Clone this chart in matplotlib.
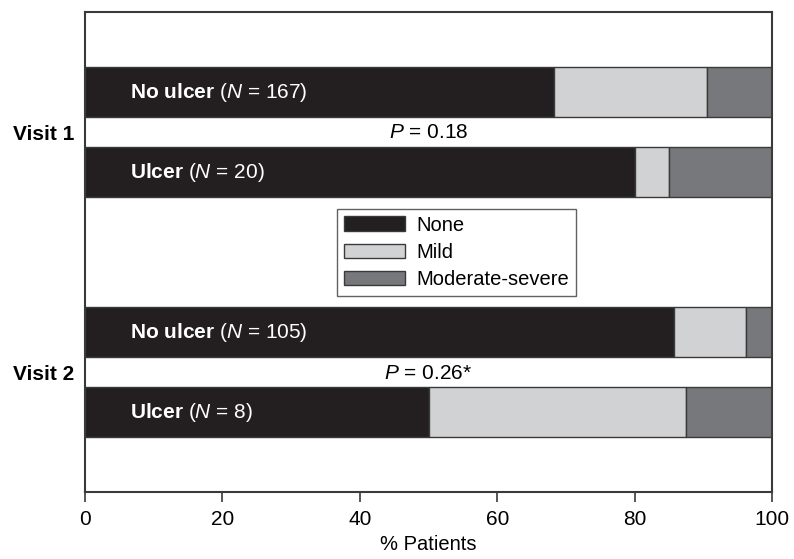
import numpy as np
import matplotlib
matplotlib.use("Agg")
import matplotlib.pyplot as plt

plt.rcParams['font.family'] = ['Liberation Sans', 'DejaVu Sans']
plt.rcParams['mathtext.fontset'] = 'custom'
plt.rcParams['mathtext.rm'] = 'Liberation Sans'
plt.rcParams['mathtext.it'] = 'Liberation Sans:italic'
plt.rcParams['mathtext.bf'] = 'Liberation Sans:bold'

# data (% patients)
groups = ['No ulcer', 'Ulcer', 'No ulcer', 'Ulcer']
group_n = [167, 20, 105, 8]
none_pct = [68.3, 80.0, 85.7, 50.0]
mild_pct = [22.2, 5.0, 10.5, 37.5]
modsev_pct = [9.5, 15.0, 3.8, 12.5]
visits = ['Visit 1', 'Visit 2']
p_labels = ['$\\mathit{P}$ = 0.18', '$\\mathit{P}$ = 0.26*']
xticks = [0, 20, 40, 60, 80, 100]

ypos = np.array([1, 2, 4, 5])
c_none, c_mild, c_mod = '#231f20', '#d1d2d4', '#77787b'
edge = '#3a3a3a'

fig = plt.figure(figsize=(7.94, 5.59), dpi=100)
ax = fig.add_axes([85/794, 1-492/559, 687/794, 480/559])

h = 0.62
none_arr = np.array(none_pct)
mild_arr = np.array(mild_pct)
ax.barh(ypos, none_pct, height=h, color=c_none, edgecolor=edge, lw=1, label='None')
ax.barh(ypos, mild_pct, left=none_arr, height=h, color=c_mild, edgecolor=edge, lw=1, label='Mild')
ax.barh(ypos, modsev_pct, left=none_arr + mild_arr, height=h, color=c_mod, edgecolor=edge, lw=1,
        label='Moderate-severe')

for y, g, n in zip(ypos, groups, group_n):
    lab = '$\\mathbf{' + g.replace(' ', '\\ ') + '}$ ($\\mathit{N}$ = ' + str(n) + ')'
    ax.text(6.5, y, lab, color='white', fontsize=15, va='center', ha='left')

ax.text(50, 1.5, p_labels[0], fontsize=15, ha='center', va='center')
ax.text(50, 4.52, p_labels[1], fontsize=15, ha='center', va='center')

ax.set_xlim(0, 100)
ax.set_ylim(6, 0)
ax.set_xticks(xticks)
ax.set_yticks([1.5, 4.5])
ax.set_yticklabels(visits, fontweight='bold', fontsize=15)
ax.tick_params(axis='y', length=0, pad=8)
ax.tick_params(axis='x', labelsize=15, length=7, width=1.2, color=edge, pad=6)
for s in ax.spines.values():
    s.set_color(edge)
    s.set_linewidth(1.5)
ax.set_xlabel('% Patients', fontsize=14.5, labelpad=4)

leg = ax.legend(loc='upper left', bbox_to_anchor=(0.367, 0.59), fontsize=14.5, frameon=True,
                fancybox=False, edgecolor=edge, handlelength=3.0, handleheight=0.75,
                borderpad=0.35, labelspacing=0.4, handletextpad=0.6, borderaxespad=0)
leg.get_frame().set_linewidth(1)

fig.savefig('out.png', dpi=100)
